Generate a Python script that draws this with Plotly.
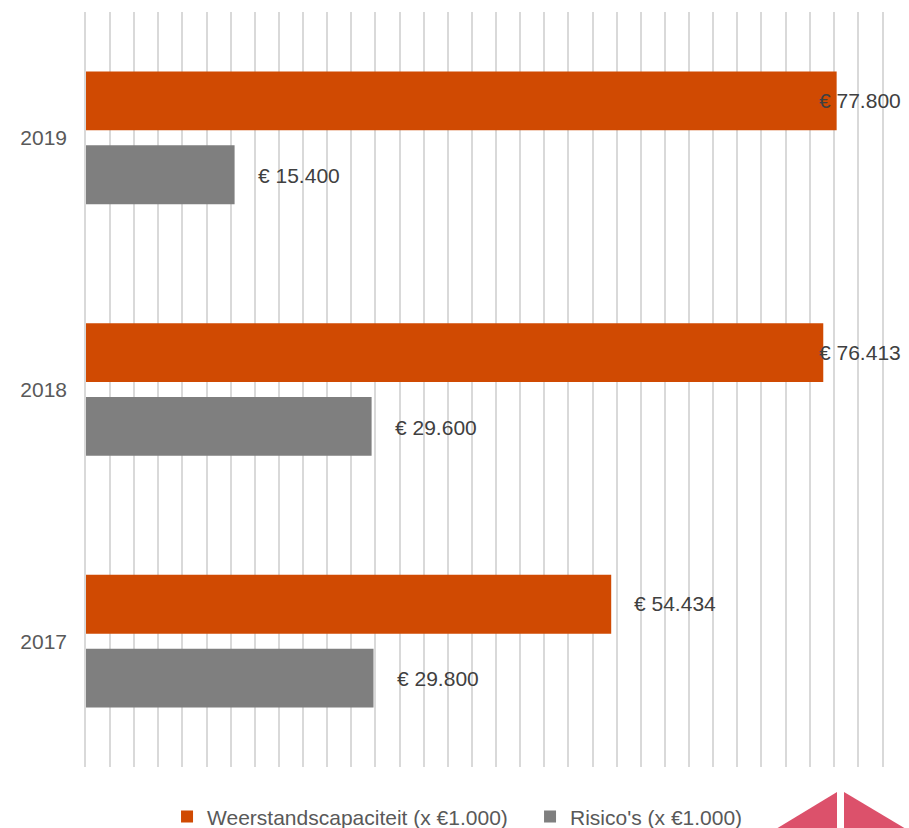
import plotly.graph_objects as go

# Data (x €1.000)
years = ["2017", "2018", "2019"]
weerstand = [54434, 76413, 77800]
risico = [29800, 29600, 15400]
series_names = ["Weerstandscapaciteit (x €1.000)", "Risico's (x €1.000)"]

ORANGE = "#D04A02"
GREY = "#7F7F7F"
GRID = "#D9D9D9"
FONT = "Arial, Liberation Sans, sans-serif"

W, H = 909, 828
ML, MR, MT, MB = 86, 27, 12, 61
X_MAX = 82500


def fmt(v):
    return "€ " + f"{v:,}".replace(",", ".")


def px_to_paper(px, py):
    return ((px - ML) / (W - ML - MR), (H - MB - py) / (H - MT - MB))


fig = go.Figure()
fig.add_trace(go.Bar(
    y=years, x=risico, orientation="h", name=series_names[1],
    marker=dict(color=GREY, line=dict(width=0)), legendrank=2,
))
fig.add_trace(go.Bar(
    y=years, x=weerstand, orientation="h", name=series_names[0],
    marker=dict(color=ORANGE, line=dict(width=0)), legendrank=1,
))

# Value labels just past the bar end, pulled back inside the chart when too long
plot_w = W - ML - MR
label_w = 83
annotations = []
for vals, shift in ((weerstand, 37.5), (risico, -37.5)):
    for idx, v in enumerate(vals):
        end_px = ML + v / X_MAX * plot_w
        common = dict(y=idx, yref="y", text=fmt(v), showarrow=False, yshift=shift,
                      font=dict(family=FONT, size=21, color="#404040"))
        if end_px + 21 + label_w > W - 6:
            annotations.append(dict(x=1, xref="paper", xanchor="right", xshift=21, **common))
        else:
            annotations.append(dict(x=v, xref="x", xanchor="left", xshift=21, **common))

# Corner emblem: two triangles
def tri(points):
    pts = [px_to_paper(*p) for p in points]
    return "M " + " L ".join(f"{x:.4f},{y:.4f}" for x, y in pts) + " Z"

shapes = [
    dict(type="path", xref="paper", yref="paper", layer="above",
         path=tri([(776, 829), (837, 792), (837, 829)]),
         fillcolor="#DC516B", line=dict(width=0)),
    dict(type="path", xref="paper", yref="paper", layer="above",
         path=tri([(844, 792), (844, 829), (906, 829)]),
         fillcolor="#DC516B", line=dict(width=0)),
]

fig.update_layout(
    width=W, height=H,
    margin=dict(l=ML, r=MR, t=MT, b=MB, autoexpand=False),
    paper_bgcolor="white", plot_bgcolor="white",
    barmode="group", bargap=0.413, bargroupgap=0.203,
    font=dict(family=FONT, size=21, color="#595959"),
    xaxis=dict(range=[0, X_MAX], dtick=2500, tick0=0, showticklabels=False,
               showgrid=True, gridcolor=GRID, gridwidth=1.5,
               zeroline=False, showline=False, fixedrange=True),
    yaxis=dict(type="category", categoryorder="array", categoryarray=years,
               range=[-0.5, 2.5],
               showgrid=False, zeroline=False,
               showline=True, mirror=True, linecolor=GRID, linewidth=1.5,
               ticks="", ticklabelstandoff=13,
               tickfont=dict(family=FONT, size=21, color="#595959")),
    legend=dict(orientation="h", x=0.1018, xanchor="left", y=-0.066, yanchor="middle",
                font=dict(family=FONT, size=21, color="#595959"),
                traceorder="normal", itemwidth=30, entrywidth=318,
                bgcolor="rgba(0,0,0,0)"),
    annotations=annotations,
    shapes=shapes,
)

fig.write_html("out.html")
